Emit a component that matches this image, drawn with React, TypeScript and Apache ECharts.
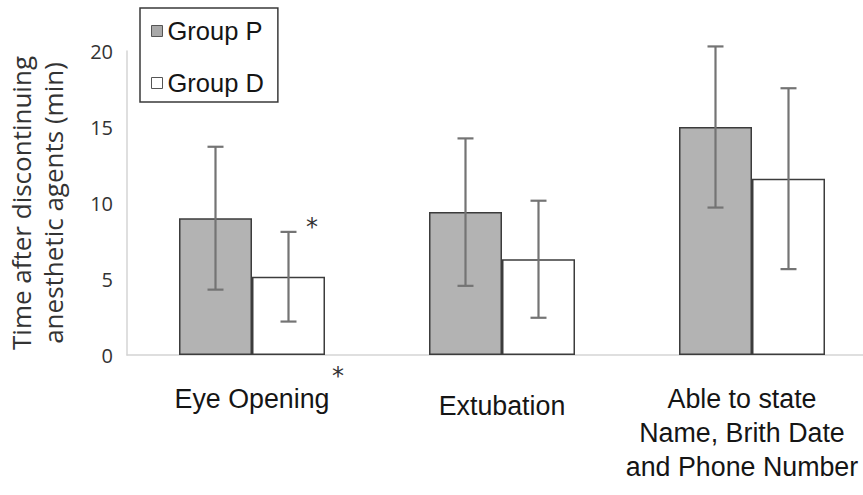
import React, { useEffect, useRef } from "react";
import * as echarts from "echarts";

const categories = ["Eye Opening", "Extubation", "Able to state\nName, Brith Date\nand Phone Number"];
const groupNames = ["Group P", "Group D"];
const groupPMean = [9.0, 9.4, 15.0];
const groupPSD = [4.7, 4.85, 5.3];
const groupDMean = [5.15, 6.3, 11.6];
const groupDSD = [2.95, 3.85, 5.95];
const yTicks = { min: 0, max: 20, interval: 5 };

const BAR_W = 73;

export default function App() {
  const ref = useRef<HTMLDivElement>(null);
  useEffect(() => {
    if (!ref.current) return;
    const chart = echarts.init(ref.current, undefined, { renderer: "svg" });
    const errData = (means: number[], sds: number[]) =>
      means.map((m, i) => [i, m - sds[i], m + sds[i]]);
    const makeErr = (name: string, means: number[], sds: number[], side: number) => ({
      type: "custom",
      name: name + " SD",
      z: 10,
      silent: true,
      data: errData(means, sds),
      renderItem: (params: any, api: any) => {
        const lo = api.coord([api.value(0), api.value(1)]);
        const hi = api.coord([api.value(0), api.value(2)]);
        const x = lo[0] + side * (BAR_W / 2);
        const cap = 8;
        const style = { stroke: "#747474", lineWidth: 2.2 };
        return {
          type: "group",
          children: [
            { type: "line", shape: { x1: x, y1: lo[1], x2: x, y2: hi[1] }, style },
            { type: "line", shape: { x1: x - cap, y1: lo[1], x2: x + cap, y2: lo[1] }, style },
            { type: "line", shape: { x1: x - cap, y1: hi[1], x2: x + cap, y2: hi[1] }, style },
          ],
        };
      },
    });
    const labelFont = "'Liberation Sans', Arial, sans-serif";
    const FS = 26.8;
    const richBase = { fontFamily: labelFont, fontSize: FS, lineHeight: 34, color: "#151515" };
    chart.setOption({
      animation: false,
      grid: { left: 127, right: -14, top: 51, bottom: 140, containLabel: false, outerBoundsMode: "none" },
      legend: {
        orient: "vertical",
        left: 140,
        top: 8,
        padding: [10, 14, 6, 11],
        itemGap: 26,
        itemWidth: 11,
        itemHeight: 11,
        borderColor: "#3a3a3a",
        borderWidth: 1.5,
        textStyle: { fontFamily: labelFont, fontSize: 25.5, lineHeight: 25, color: "#151515" },
        data: [
          { name: groupNames[0], icon: "rect", itemStyle: { color: "#a9a9a9", borderColor: "#555", borderWidth: 1 } },
          { name: groupNames[1], icon: "rect", itemStyle: { color: "#ffffff", borderColor: "#555", borderWidth: 1 } },
        ],
      },
      xAxis: {
        type: "category",
        data: categories,
        axisLine: { lineStyle: { color: "#d4d4d4", width: 1.5 } },
        axisTick: { show: false },
        axisLabel: {
          interval: 0,
          margin: 27,
          fontFamily: labelFont,
          fontSize: FS,
          lineHeight: 34,
          color: "#151515",
          formatter: (v: string) => {
            if (v === "Extubation") return "{e|" + v + "}";
            if (v.indexOf("\n") >= 0) return v.split("\n").map((s) => "{m|" + s + "}").join("\n");
            return v;
          },
          rich: {
            e: { ...richBase, padding: [13, 0, 0, 0] },
            m: { ...richBase, padding: [0, 20, 0, 0] },
          },
        },
      },
      yAxis: {
        type: "value",
        min: yTicks.min,
        max: yTicks.max,
        interval: yTicks.interval,
        splitLine: { show: false },
        axisTick: { show: false },
        axisLine: { show: true, lineStyle: { color: "#d4d4d4", width: 1.5 } },
        axisLabel: { fontFamily: "'Open Sans', sans-serif", fontSize: 20, color: "#333", margin: 14 },
        name: "Time after discontinuing\nanesthetic agents (min)",
        nameLocation: "middle",
        nameGap: 58,
        nameRotate: 90,
        nameTextStyle: { fontFamily: "'Open Sans', sans-serif", fontSize: 26, lineHeight: 32, color: "#333" },
      },
      series: [
        {
          type: "bar",
          name: groupNames[0],
          data: groupPMean,
          barWidth: BAR_W,
          barGap: "0%",
          itemStyle: { color: "#b3b3b3", borderColor: "#3c3c3c", borderWidth: 1.5 },
        },
        {
          type: "bar",
          name: groupNames[1],
          data: groupDMean,
          barWidth: BAR_W,
          barGap: "0%",
          itemStyle: { color: "#ffffff", borderColor: "#3c3c3c", borderWidth: 1.5 },
        },
        makeErr(groupNames[0], groupPMean, groupPSD, -1),
        makeErr(groupNames[1], groupDMean, groupDSD, 1),
      ],
    });
    const p1 = chart.convertToPixel({ gridIndex: 0 }, [0, groupDMean[0] + groupDSD[0] + 0.7]);
    const p2 = chart.convertToPixel({ gridIndex: 0 }, [0, 0]);
    const starStyle = { text: "*", fontFamily: "'DejaVu Sans', sans-serif", fontSize: 24, fill: "#333", align: "center", verticalAlign: "middle" };
    chart.setOption({
      graphic: [
        { type: "text", x: p1[0] + 60, y: p1[1] + 6, style: starStyle },
        { type: "text", x: p2[0] + 86, y: p2[1] + 21, style: starStyle },
      ],
    });
    return () => chart.dispose();
  }, []);
  return <div ref={ref} style={{ position: "absolute", left: 0, top: 0, width: 863, height: 495 }} />;
}
